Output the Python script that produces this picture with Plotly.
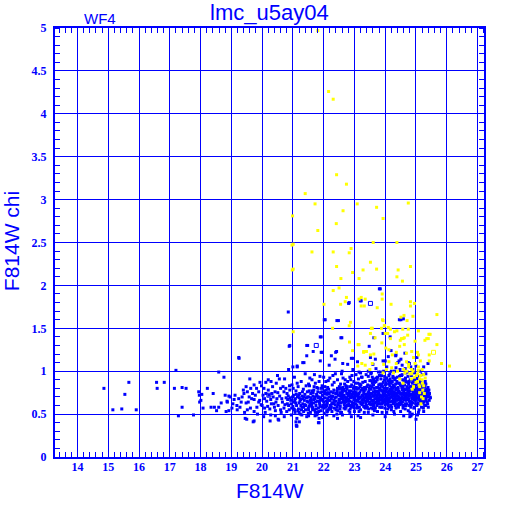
import plotly.graph_objects as go

# ---------------- data ----------------
title_text = "lmc_u5ay04"
chip_label = "WF4"
x_label = "F814W"
y_label = "F814W chi"

# sparse bright end and faint tail, blue
blue_sparse = [
    (14.86, 0.80), (15.15, 0.55), (15.44, 0.56), (15.54, 0.73), (15.67, 0.87), (15.91, 0.55),
    (16.57, 0.87), (16.59, 0.80), (16.82, 0.87), (17.15, 0.80), (17.20, 1.01), (17.28, 0.48),
    (17.40, 0.81), (17.40, 0.58), (17.53, 0.80), (17.77, 0.49), (17.94, 0.76), (17.96, 0.72),
    (18.04, 0.73), (17.97, 0.64), (18.01, 0.66), (18.08, 0.57), (18.22, 0.80), (18.41, 0.74),
    (18.34, 0.58), (18.45, 0.58), (18.52, 0.54), (18.59, 0.99), (18.59, 0.58), (18.67, 0.63),
    (18.76, 0.93), (18.80, 0.72), (18.86, 0.65), (18.83, 0.53), (18.92, 0.71), (18.92, 0.54),
    (18.96, 0.70), (19.09, 0.67), (19.24, 0.68), (19.39, 0.78), (19.41, 0.74), (19.52, 0.76),
    (19.69, 0.74), (19.89, 0.76), (20.12, 0.74), (20.32, 0.74), (20.51, 0.75), (20.71, 0.76),
    (18.87, 0.64), (19.32, 0.64), (19.48, 0.63), (19.74, 0.67), (19.89, 0.64), (20.08, 0.68),
    (20.28, 0.67), (20.45, 0.64), (20.64, 0.68), (19.02, 0.57), (19.19, 0.55), (19.52, 0.55),
    (19.74, 0.53), (20.08, 0.57), (20.43, 0.54), (20.71, 0.57), (19.50, 0.44), (19.74, 0.42),
    (20.28, 0.49), (20.43, 0.48), (20.54, 0.43), (20.26, 0.42), (20.52, 0.44), (19.71, 0.41),
    (19.45, 0.45), (19.93, 0.87), (20.12, 0.87), (20.29, 0.88), (20.46, 0.86), (19.74, 0.84),
    (19.48, 0.82), (19.63, 0.80), (19.82, 0.80), (20.06, 0.80), (20.34, 0.82), (20.60, 0.80),
    (20.56, 0.91), (20.73, 0.91), (20.77, 0.80), (19.25, 1.15), (19.24, 1.16), (20.22, 0.72),
    (19.58, 0.70), (19.97, 0.61), (20.18, 0.59), (20.38, 0.62), (20.62, 0.52), (19.83, 0.58),
    (19.05, 0.62), (19.12, 0.72), (19.18, 0.60), (19.28, 0.58), (19.35, 0.70), (19.43, 0.52),
    (19.55, 0.64), (19.62, 0.57), (19.66, 0.68), (19.78, 0.72), (19.85, 0.50), (19.92, 0.66),
    (20.00, 0.60), (20.03, 0.72), (20.10, 0.52), (20.15, 0.65), (20.20, 0.78), (20.25, 0.56),
    (20.30, 0.62), (20.36, 0.70), (20.40, 0.58), (20.42, 0.76), (20.48, 0.68), (20.52, 0.60),
    (20.57, 0.71), (20.60, 0.55), (20.66, 0.64), (20.68, 0.82), (20.74, 0.61), (20.78, 0.69),
    (20.80, 0.53), (19.98, 0.83), (20.20, 0.90), (20.50, 0.95), (19.60, 0.91), (20.05, 0.47),
    (20.72, 0.47),
]

# upper scattered blue stars
blue_upper = [
    (23.81, 1.96), (20.85, 1.69), (22.81, 1.79), (23.19, 1.82), (22.02, 1.60), (22.43, 1.59),
    (24.46, 1.60), (24.59, 1.61), (22.56, 1.39), (21.89, 1.40), (20.88, 1.29), (21.45, 1.30),
    (21.92, 1.22), (20.86, 1.02), (21.32, 1.10), (21.14, 1.05), (22.39, 1.22), (23.68, 1.14),
    (24.19, 1.24), (23.93, 1.44), (24.16, 1.40), (24.35, 1.19), (24.64, 1.21), (25.03, 1.16),
    (25.39, 1.09), (24.41, 1.10), (24.79, 1.09), (20.90, 1.30), (21.48, 1.30), (21.95, 1.22),
    (21.66, 1.23), (21.45, 1.18), (22.42, 1.23), (22.25, 1.18), (22.37, 1.14), (21.36, 1.10),
    (21.89, 1.12), (21.14, 1.06), (21.00, 1.05), (22.18, 1.07), (22.62, 1.09), (22.78, 1.08),
    (22.96, 1.15), (23.48, 1.29), (24.34, 1.18), (24.10, 1.17), (23.52, 1.16), (23.93, 1.12),
    (24.51, 1.14), (22.90, 1.15), (23.10, 1.11), (22.05, 1.60), (22.48, 1.59), (24.51, 1.60),
    (21.92, 1.40), (22.59, 1.39), (23.63, 1.39), (23.22, 1.82), (22.83, 1.80), (23.84, 1.96),
    (23.20, 0.98), (23.45, 1.00), (23.70, 1.03), (23.85, 0.99), (24.05, 1.05), (24.20, 1.00),
    (24.35, 1.04), (24.55, 1.07), (24.65, 1.03), (24.75, 1.10), (24.90, 1.02), (25.00, 1.06),
    (25.15, 1.00), (25.25, 1.05), (25.32, 0.97), (22.60, 1.00), (22.95, 1.02), (23.60, 1.08),
    (24.00, 1.12), (24.45, 1.12),
]

# main cloud of blue stars
blue_cloud = [
    (20.82, 0.62), (20.85, 0.71), (20.88, 0.55), (20.90, 0.78), (20.93, 0.66), (20.95, 0.49),
    (20.97, 0.84), (21.00, 0.59), (21.02, 0.72), (21.04, 0.64), (21.05, 0.93), (21.07, 0.52),
    (21.08, 0.68), (21.10, 0.77), (21.12, 0.60), (21.13, 0.45), (21.15, 0.70), (21.17, 0.82),
    (21.18, 0.56), (21.20, 0.63), (21.22, 0.74), (21.24, 0.50), (21.25, 0.67), (21.27, 0.88),
    (21.29, 0.58), (21.30, 0.71), (21.32, 0.62), (21.34, 0.79), (21.35, 0.53), (21.37, 0.66),
    (21.39, 0.73), (21.40, 0.97), (21.42, 0.60), (21.44, 0.69), (21.45, 0.47), (21.47, 0.76),
    (21.49, 0.64), (21.50, 0.57),
    (21.52, 0.70), (21.54, 0.83), (21.55, 0.61), (21.57, 0.52), (21.58, 0.74), (21.60, 0.66),
    (21.62, 0.90), (21.63, 0.58), (21.65, 0.71), (21.67, 0.63), (21.68, 0.78), (21.70, 0.55),
    (21.72, 0.68), (21.73, 0.86), (21.75, 0.60), (21.77, 0.73), (21.78, 0.49), (21.80, 0.65),
    (21.82, 0.80), (21.83, 0.57), (21.85, 0.70), (21.87, 0.62), (21.88, 0.94), (21.90, 0.75),
    (21.92, 0.54), (21.93, 0.67), (21.95, 0.83), (21.97, 0.60), (21.98, 0.72), (22.00, 0.64),
    (22.02, 0.51), (22.03, 0.77), (22.05, 0.69), (22.07, 0.88), (22.08, 0.58), (22.10, 0.73),
    (22.12, 0.63), (22.13, 0.81), (22.15, 0.55), (22.17, 0.70), (22.18, 0.66), (22.20, 0.92),
    (22.22, 0.60), (22.23, 0.76), (22.25, 0.68), (22.27, 0.53), (22.28, 0.84), (22.30, 0.71),
    (22.32, 0.62), (22.33, 0.78), (22.35, 0.57), (22.37, 0.69), (22.38, 0.97), (22.40, 0.65),
    (22.42, 0.74), (22.43, 0.50), (22.45, 0.80), (22.47, 0.61), (22.48, 0.72), (22.50, 0.67),
    (21.53, 0.77), (21.59, 0.69), (21.64, 0.55), (21.69, 0.82), (21.74, 0.64), (21.79, 0.71),
    (21.84, 0.53), (21.89, 0.66), (21.94, 0.76), (21.99, 0.59), (22.04, 0.82), (22.09, 0.65),
    (22.14, 0.75), (22.19, 0.57), (22.24, 0.71), (22.29, 0.63), (22.34, 0.87), (22.39, 0.74),
    (22.44, 0.58), (22.49, 0.79),
    (22.52, 0.75), (22.54, 0.59), (22.55, 0.85), (22.57, 0.68), (22.58, 0.52), (22.60, 0.73),
    (22.62, 0.64), (22.63, 0.92), (22.65, 0.79), (22.67, 0.61), (22.68, 0.70), (22.70, 0.56),
    (22.72, 0.83), (22.73, 0.66), (22.75, 0.74), (22.77, 0.60), (22.78, 0.88), (22.80, 0.71),
    (22.82, 0.54), (22.83, 0.77), (22.85, 0.65), (22.87, 0.82), (22.88, 0.69), (22.90, 0.58),
    (22.92, 0.95), (22.93, 0.73), (22.95, 0.63), (22.97, 0.80), (22.98, 0.67), (23.00, 0.53),
    (23.02, 0.76), (23.03, 0.86), (23.05, 0.62), (23.07, 0.71), (23.08, 0.79), (23.10, 0.57),
    (23.12, 0.68), (23.13, 0.91), (23.15, 0.74), (23.17, 0.64), (23.18, 0.82), (23.20, 0.55),
    (23.22, 0.70), (23.23, 0.78), (23.25, 0.61), (23.27, 0.87), (23.28, 0.67), (23.30, 0.75),
    (23.32, 0.52), (23.33, 0.81), (23.35, 0.69), (23.37, 0.63), (23.38, 0.96), (23.40, 0.73),
    (23.42, 0.58), (23.43, 0.84), (23.45, 0.70), (23.47, 0.77), (23.48, 0.62), (23.50, 0.89),
    (22.51, 0.66), (22.56, 0.80), (22.61, 0.70), (22.66, 0.57), (22.71, 0.77), (22.76, 0.69),
    (22.81, 0.62), (22.86, 0.75), (22.91, 0.84), (22.96, 0.59), (23.01, 0.69), (23.06, 0.81),
    (23.11, 0.65), (23.16, 0.58), (23.21, 0.84), (23.26, 0.72), (23.31, 0.66), (23.36, 0.79),
    (23.41, 0.67), (23.46, 0.56),
    (22.53, 0.71), (22.59, 0.78), (22.64, 0.67), (22.69, 0.63), (22.74, 0.81), (22.79, 0.73),
    (22.84, 0.60), (22.89, 0.77), (22.94, 0.70), (22.99, 0.74), (23.04, 0.66), (23.09, 0.73),
    (23.14, 0.80), (23.19, 0.69), (23.24, 0.66), (23.29, 0.79), (23.34, 0.73), (23.39, 0.60),
    (23.44, 0.75), (23.49, 0.71),
    (23.52, 0.68), (23.54, 0.79), (23.55, 0.57), (23.57, 0.74), (23.58, 0.93), (23.60, 0.65),
    (23.62, 0.84), (23.63, 0.71), (23.65, 0.54), (23.67, 0.77), (23.68, 0.63), (23.70, 0.88),
    (23.72, 0.72), (23.73, 0.60), (23.75, 0.81), (23.77, 0.69), (23.78, 0.99), (23.80, 0.75),
    (23.82, 0.58), (23.83, 0.85), (23.85, 0.66), (23.87, 0.78), (23.88, 0.71), (23.90, 0.52),
    (23.92, 0.82), (23.93, 0.74), (23.95, 0.64), (23.97, 0.90), (23.98, 0.77), (24.00, 0.61),
    (24.02, 0.72), (24.03, 0.86), (24.05, 0.68), (24.07, 0.80), (24.08, 0.56), (24.10, 0.75),
    (24.12, 0.95), (24.13, 0.66), (24.15, 0.83), (24.17, 0.73), (24.18, 0.60), (24.20, 0.79),
    (24.22, 0.70), (24.23, 0.88), (24.25, 0.64), (24.27, 0.76), (24.28, 0.53), (24.30, 0.82),
    (24.32, 0.69), (24.33, 0.92), (24.35, 0.74), (24.37, 0.62), (24.38, 0.80), (24.40, 0.71),
    (24.42, 0.86), (24.43, 0.58), (24.45, 0.77), (24.47, 0.67), (24.48, 1.02), (24.50, 0.73),
    (23.51, 0.83), (23.56, 0.66), (23.61, 0.76), (23.66, 0.87), (23.71, 0.64), (23.76, 0.73),
    (23.81, 0.67), (23.86, 0.91), (23.91, 0.70), (23.96, 0.80), (24.01, 0.66), (24.06, 0.76),
    (24.11, 0.85), (24.16, 0.69), (24.21, 0.58), (24.26, 0.84), (24.31, 0.75), (24.36, 0.68),
    (24.41, 0.79), (24.46, 0.63),
    (23.53, 0.61), (23.59, 0.71), (23.64, 0.80), (23.69, 0.76), (23.74, 0.67), (23.79, 0.84),
    (23.84, 0.72), (23.89, 0.62), (23.94, 0.87), (23.99, 0.73), (24.04, 0.79), (24.09, 0.63),
    (24.14, 0.77), (24.19, 0.86), (24.24, 0.72), (24.29, 0.65), (24.34, 0.79), (24.39, 0.74),
    (24.44, 0.70), (24.49, 0.84),
    (23.55, 0.89), (23.63, 0.59), (23.72, 0.81), (23.81, 0.95), (23.90, 0.68), (23.99, 0.57),
    (24.07, 0.69), (24.16, 0.91), (24.25, 0.80), (24.33, 0.60), (24.42, 0.67), (24.50, 0.95),
    (24.52, 0.62), (24.54, 0.81), (24.55, 0.70), (24.57, 0.90), (24.58, 0.57), (24.60, 0.76),
    (24.62, 0.67), (24.63, 0.84), (24.65, 0.73), (24.67, 0.98), (24.68, 0.60), (24.70, 0.79),
    (24.72, 0.69), (24.73, 0.87), (24.75, 0.54), (24.77, 0.75), (24.78, 0.65), (24.80, 0.82),
    (24.82, 0.72), (24.83, 1.05), (24.85, 0.61), (24.87, 0.78), (24.88, 0.68), (24.90, 0.89),
    (24.92, 0.74), (24.93, 0.57), (24.95, 0.83), (24.97, 0.66), (24.98, 0.77), (25.00, 0.71),
    (25.02, 0.92), (25.03, 0.60), (25.05, 0.80), (25.07, 0.69), (25.08, 0.52), (25.10, 0.76),
    (25.12, 0.86), (25.13, 0.65), (25.15, 0.73), (25.17, 0.81), (25.18, 0.58), (25.20, 0.70),
    (25.22, 0.78), (25.23, 0.63), (25.25, 0.74), (25.27, 0.84), (25.28, 0.67), (25.30, 0.72),
    (25.32, 0.60), (25.35, 0.79), (25.38, 0.70), (25.40, 0.75), (25.43, 0.66),
    (24.51, 0.74), (24.56, 0.64), (24.61, 0.88), (24.66, 0.71), (24.71, 0.62), (24.76, 0.85),
    (24.81, 0.77), (24.86, 0.69), (24.91, 0.63), (24.96, 0.91), (25.01, 0.79), (25.06, 0.73),
    (25.11, 0.62), (25.16, 0.68), (25.21, 0.86), (25.26, 0.70), (25.31, 0.78), (25.36, 0.64),
    (24.53, 0.95), (24.59, 0.68), (24.64, 0.78), (24.69, 0.74), (24.74, 0.94), (24.79, 0.60),
    (24.84, 0.73), (24.89, 0.80), (24.94, 0.70), (24.99, 0.62), (25.04, 0.85), (25.09, 0.81),
    (25.14, 0.77), (25.19, 0.74), (25.24, 0.57), (25.29, 0.82), (25.34, 0.73), (25.39, 0.81),
    (21.10, 0.41), (21.13, 0.36), (21.85, 0.45), (21.85, 0.40), (21.96, 0.46), (22.33, 0.48),
    (22.61, 0.49), (22.45, 0.45), (22.90, 0.47), (23.20, 0.46), (23.60, 0.49), (24.00, 0.47),
    (24.30, 0.50), (24.60, 0.48), (24.80, 0.47), (25.00, 0.44), (25.05, 0.49), (24.88, 0.50),
    (21.11, 0.37), (21.83, 0.40), (24.84, 0.48), (23.12, 0.48), (21.21, 0.41), (21.12, 0.36),
    (21.29, 0.49), (21.51, 0.48), (21.72, 0.48), (22.10, 0.49), (21.51, 0.55), (22.12, 0.53),
]

blue_cloud_extra = [
    (20.81, 0.74), (20.86, 0.60), (20.91, 0.69), (20.96, 0.57), (21.01, 0.80), (21.06, 0.66),
    (21.11, 0.73), (21.16, 0.54), (21.21, 0.69), (21.26, 0.60), (21.31, 0.76), (21.36, 0.70),
    (21.41, 0.55), (21.46, 0.65), (21.51, 0.85), (21.56, 0.66), (21.61, 0.60), (21.66, 0.75),
    (21.71, 0.70), (21.76, 0.56), (21.81, 0.76), (21.86, 0.64), (21.91, 0.69), (21.96, 0.72),
    (22.01, 0.57), (22.06, 0.74), (22.11, 0.60), (22.16, 0.79), (22.21, 0.66), (22.26, 0.62),
    (22.31, 0.75), (22.36, 0.65), (22.41, 0.70), (22.46, 0.54), (22.51, 0.82), (22.56, 0.63),
    (22.61, 0.76), (22.66, 0.72), (22.71, 0.64), (22.76, 0.79), (22.81, 0.67), (22.86, 0.56),
    (22.91, 0.72), (22.96, 0.70), (23.01, 0.62), (23.06, 0.75), (23.11, 0.86), (23.16, 0.70),
    (23.21, 0.62), (23.26, 0.80), (23.31, 0.69), (23.36, 0.57), (23.41, 0.82), (23.46, 0.74),
    (23.51, 0.64), (23.56, 0.74), (23.61, 0.60), (23.66, 0.68), (23.71, 0.92), (23.76, 0.77),
    (23.81, 0.62), (23.86, 0.70), (23.91, 0.77), (23.96, 0.66), (24.01, 0.84), (24.06, 0.62),
    (24.11, 0.72), (24.16, 0.64), (24.21, 0.81), (24.26, 0.68), (24.31, 0.90), (24.36, 0.78),
    (24.41, 0.61), (24.46, 0.86), (24.51, 0.69), (24.56, 0.78), (24.61, 0.72), (24.66, 0.62),
    (24.71, 0.82), (24.76, 0.68), (24.81, 0.90), (24.86, 0.64), (24.91, 0.76), (24.96, 0.73),
    (25.01, 0.66), (25.06, 0.90), (25.11, 0.70), (25.16, 0.85), (25.21, 0.65), (25.26, 0.78),
    (25.31, 0.68), (25.36, 0.75), (25.41, 0.71),
    (20.83, 0.67), (20.89, 0.83), (20.94, 0.62), (20.99, 0.70), (21.03, 0.56), (21.09, 0.63),
    (21.14, 0.86), (21.19, 0.72), (21.23, 0.65), (21.28, 0.55), (21.33, 0.68), (21.38, 0.61),
    (21.43, 0.83), (21.48, 0.70), (21.53, 0.59), (21.58, 0.63), (21.63, 0.77), (21.68, 0.67),
    (21.73, 0.52), (21.78, 0.81), (21.83, 0.69), (21.88, 0.59), (21.93, 0.80), (21.98, 0.66),
    (22.03, 0.61), (22.08, 0.78), (22.13, 0.68), (22.18, 0.74), (22.23, 0.56), (22.28, 0.70),
    (22.33, 0.66), (22.38, 0.61), (22.43, 0.77), (22.48, 0.63), (22.53, 0.56), (22.58, 0.71),
    (22.63, 0.78), (22.68, 0.85), (22.73, 0.58), (22.78, 0.65), (22.83, 0.72), (22.88, 0.90),
    (22.93, 0.61), (22.98, 0.82), (23.03, 0.72), (23.08, 0.60), (23.13, 0.68), (23.18, 0.76),
    (23.23, 0.93), (23.28, 0.63), (23.33, 0.58), (23.38, 0.71), (23.43, 0.65), (23.48, 0.80),
    (23.53, 0.97), (23.58, 0.62), (23.63, 0.88), (23.68, 0.57), (23.73, 0.70), (23.78, 0.65),
    (23.83, 0.80), (23.88, 0.58), (23.93, 0.65), (23.98, 0.94), (24.03, 0.70), (24.08, 0.89),
    (24.13, 0.58), (24.18, 0.70), (24.23, 0.77), (24.28, 0.73), (24.33, 0.67), (24.38, 0.88),
    (24.43, 0.75), (24.48, 0.61), (24.53, 0.83), (24.58, 0.60), (24.63, 0.69), (24.68, 0.88),
    (24.73, 0.77), (24.78, 0.71), (24.83, 0.58), (24.88, 0.86), (24.93, 0.67), (24.98, 0.84),
    (25.03, 0.75), (25.08, 0.63), (25.13, 0.71), (25.18, 0.79), (25.23, 0.72), (25.28, 0.60),
    (25.33, 0.66), (25.38, 0.62), (25.44, 0.74), (25.47, 0.69),
]

blue_cloud_fill = [
    (21.55, 0.92), (21.70, 0.96), (21.85, 0.88), (22.00, 0.93), (22.15, 0.89), (22.30, 0.95),
    (22.45, 0.90), (22.58, 0.97), (22.70, 0.90), (22.85, 0.93), (22.98, 0.88), (23.05, 0.96),
    (23.15, 0.99), (23.25, 0.93), (23.35, 0.88), (23.45, 0.94), (23.55, 0.98), (23.62, 0.91),
    (23.75, 0.93), (23.88, 0.95), (23.95, 1.00), (24.05, 0.92), (24.15, 0.97), (24.25, 0.94),
    (24.30, 1.00), (24.40, 0.93), (24.55, 0.96), (24.65, 0.91), (24.72, 0.99), (24.85, 0.95),
    (24.95, 0.98), (25.05, 0.94), (25.20, 0.96), (25.30, 0.88),
    (21.05, 0.55), (21.20, 0.52), (21.35, 0.58), (21.50, 0.51), (21.65, 0.57), (21.80, 0.52),
    (21.95, 0.58), (22.10, 0.54), (22.25, 0.58), (22.40, 0.55), (22.55, 0.52), (22.70, 0.59),
    (22.85, 0.52), (23.00, 0.57), (23.15, 0.53), (23.30, 0.59), (23.45, 0.52), (23.60, 0.56),
    (23.75, 0.53), (23.90, 0.58), (24.05, 0.52), (24.20, 0.55), (24.35, 0.57), (24.50, 0.53),
    (24.65, 0.56), (24.80, 0.52), (24.95, 0.58), (25.10, 0.55), (25.25, 0.53), (25.40, 0.58),
    (22.52, 0.63), (22.62, 0.81), (22.72, 0.69), (22.82, 0.75), (22.92, 0.64), (23.02, 0.80),
    (23.12, 0.72), (23.22, 0.63), (23.32, 0.77), (23.42, 0.70), (23.52, 0.74), (23.62, 0.66),
    (23.72, 0.76), (23.82, 0.70), (23.92, 0.63), (24.02, 0.77), (24.12, 0.68), (24.22, 0.74),
    (24.32, 0.64), (24.42, 0.81), (24.52, 0.66), (24.62, 0.79), (24.72, 0.72), (24.82, 0.65),
    (24.92, 0.78), (25.02, 0.69), (25.12, 0.80), (25.22, 0.74), (25.32, 0.85), (25.42, 0.78),
    (22.57, 0.74), (22.67, 0.65), (22.77, 0.82), (22.87, 0.70), (22.97, 0.76), (23.07, 0.66),
    (23.17, 0.85), (23.27, 0.71), (23.37, 0.65), (23.47, 0.68), (23.57, 0.82), (23.67, 0.72),
    (23.77, 0.62), (23.87, 0.83), (23.97, 0.71), (24.07, 0.65), (24.17, 0.79), (24.27, 0.62),
    (24.37, 0.71), (24.47, 0.75), (24.57, 0.73), (24.67, 0.66), (24.77, 0.80), (24.87, 0.73),
    (24.97, 0.69), (25.07, 0.77), (25.17, 0.64), (25.27, 0.69), (25.37, 0.71),
    (23.54, 0.70), (23.58, 0.86), (23.62, 0.62), (23.66, 0.74), (23.70, 0.68), (23.74, 0.90),
    (23.78, 0.73), (23.82, 0.78), (23.86, 0.62), (23.90, 0.85), (23.94, 0.76), (23.98, 0.68),
    (24.02, 0.92), (24.06, 0.71), (24.10, 0.60), (24.14, 0.88), (24.18, 0.76), (24.22, 0.65),
    (24.26, 0.92), (24.30, 0.71), (24.34, 0.85), (24.38, 0.66), (24.42, 0.76), (24.46, 0.94),
    (24.50, 0.64), (24.54, 0.74), (24.58, 0.82), (24.62, 0.60), (24.66, 0.92), (24.70, 0.67),
    (24.74, 0.72), (24.78, 0.88), (24.82, 0.62), (24.86, 0.82), (24.90, 0.71), (24.94, 0.88),
    (24.98, 0.72), (25.02, 0.62), (25.06, 0.83), (25.10, 0.67), (25.14, 0.89), (25.18, 0.65),
    (25.22, 0.82), (25.26, 0.64), (25.30, 0.76), (25.34, 0.70), (25.38, 0.77), (25.45, 0.70),
]

# open-symbol blue stars
blue_open = [(21.76, 1.30), (23.52, 1.79), (20.22, 0.72)]

# yellow stars (flagged)
yellow_pts = [
    (21.81, 4.97), (22.16, 4.26), (22.31, 4.17), (22.42, 3.29), (22.74, 3.18), (21.40, 3.07),
    (21.72, 2.95), (23.09, 2.95), (23.72, 2.91), (24.75, 2.96), (20.99, 2.81), (22.63, 2.87),
    (23.93, 2.78), (22.41, 2.72), (21.81, 2.64), (21.01, 2.48), (21.62, 2.39), (22.31, 2.39),
    (22.89, 2.43), (22.83, 2.38), (23.61, 2.50), (24.38, 2.50), (22.42, 2.22), (23.52, 2.27),
    (23.72, 2.19), (23.28, 2.18), (24.82, 2.22), (22.94, 2.15), (24.42, 2.18), (24.38, 2.10),
    (22.56, 2.08), (24.56, 2.05), (21.01, 2.19), (23.15, 2.08), (22.31, 1.94), (22.50, 1.97),
    (22.74, 1.86), (23.22, 1.86), (23.15, 1.84), (23.35, 1.84), (23.90, 1.90), (23.90, 1.84),
    (22.70, 1.81), (23.22, 1.76), (23.32, 1.76), (23.74, 1.74), (24.19, 1.78), (24.82, 1.81),
    (24.95, 1.79), (24.82, 1.76), (22.01, 1.78), (22.55, 1.78), (25.68, 1.66), (24.61, 1.65),
    (24.51, 1.63), (24.90, 1.64), (24.71, 1.59), (23.93, 1.59), (22.87, 1.57), (22.83, 1.53),
    (22.29, 1.50), (23.58, 1.50), (23.97, 1.53), (24.10, 1.51), (23.88, 1.50), (24.17, 1.49),
    (24.38, 1.47), (24.57, 1.49), (24.75, 1.49), (25.08, 1.47), (24.30, 1.46), (24.00, 1.44),
    (21.01, 1.46), (25.46, 1.43), (24.62, 1.39), (24.53, 1.38), (24.17, 1.38), (24.73, 1.42),
    (23.52, 1.44), (23.67, 1.39), (25.35, 1.38), (23.13, 1.31), (23.39, 1.23), (23.30, 1.22),
    (23.52, 1.19), (23.63, 1.20), (23.89, 1.33), (24.02, 1.27), (24.12, 1.25), (24.23, 1.19),
    (24.36, 1.22), (24.47, 1.29), (24.62, 1.31), (24.49, 1.36), (24.58, 1.38), (24.69, 1.21),
    (24.86, 1.23), (24.97, 1.35), (25.05, 1.22), (25.29, 1.36), (25.42, 1.43), (25.40, 1.38),
    (25.68, 1.31), (25.43, 1.19), (25.43, 1.12), (25.83, 1.09), (26.09, 1.06), (25.08, 1.19),
    (24.92, 1.16), (25.14, 1.12), (22.94, 1.24), (23.15, 1.31), (23.24, 1.09), (23.58, 1.09),
    (23.95, 1.08), (24.12, 1.11), (24.36, 1.09), (24.69, 1.11), (24.76, 1.08), (24.97, 1.09),
    (25.08, 1.05), (25.20, 1.02), (24.86, 1.02), (24.76, 1.05), (24.64, 0.98), (24.86, 0.97),
    (25.02, 0.95), (25.12, 0.91), (25.21, 0.86), (25.05, 0.88), (24.88, 0.79), (25.12, 0.82),
    (25.22, 0.78), (25.27, 0.74), (25.16, 0.62), (24.47, 0.91), (24.27, 0.98), (23.93, 0.98),
    (23.50, 1.02), (23.35, 1.07), (23.11, 1.06), (24.04, 1.02), (24.21, 1.04), (24.58, 0.86),
    (24.90, 1.00), (24.95, 0.93), (25.00, 0.87), (25.05, 0.97), (25.10, 0.84), (25.15, 0.95),
    (25.20, 0.90), (25.25, 0.83), (24.85, 0.91), (24.80, 0.97), (25.12, 0.75), (25.18, 0.70),
    (25.23, 0.68), (24.92, 0.82), (25.30, 0.92), (24.70, 1.00), (24.60, 1.02), (24.40, 1.00),
    (25.25, 0.96), (25.07, 1.01), (20.97, 2.47), (20.98, 2.18), (23.91, 1.60), (23.98, 1.53),
    (23.55, 1.50), (24.08, 1.44), (23.30, 1.23), (22.84, 1.34), (23.12, 1.31),
]
yellow_open = [(25.57, 1.22)]

x_range = [13.27, 27.21]
y_range = [0, 5]

# ---------------- figure ----------------
BLUE = "#0000ff"
YELLOW = "#ffff00"

blue_all = blue_sparse + blue_upper + blue_cloud + blue_cloud_extra + blue_cloud_fill


def xs(pts):
    return [p[0] for p in pts]


def ys(pts):
    return [p[1] for p in pts]


fig = go.Figure()
fig.add_trace(go.Scatter(x=xs(blue_all), y=ys(blue_all), mode="markers",
                         marker=dict(symbol="square", size=3, color=BLUE, line=dict(width=0)),
                         showlegend=False, hoverinfo="skip"))
fig.add_trace(go.Scatter(x=xs(blue_open), y=ys(blue_open), mode="markers",
                         marker=dict(symbol="square-open", size=4, color=BLUE, line=dict(width=1, color=BLUE)),
                         showlegend=False, hoverinfo="skip"))
fig.add_trace(go.Scatter(x=xs(yellow_pts), y=ys(yellow_pts), mode="markers",
                         marker=dict(symbol="square", size=3, color=YELLOW, line=dict(width=0)),
                         showlegend=False, hoverinfo="skip"))
fig.add_trace(go.Scatter(x=xs(yellow_open), y=ys(yellow_open), mode="markers",
                         marker=dict(symbol="square-open", size=4, color=YELLOW, line=dict(width=1, color=YELLOW)),
                         showlegend=False, hoverinfo="skip"))

tick_font = dict(family="Liberation Serif", size=12, color=BLUE, weight="bold")
label_font = dict(family="Liberation Sans", size=21, color=BLUE)

fig.update_layout(
    width=512, height=512,
    margin=dict(l=55, r=28, t=28, b=55, autoexpand=False),
    paper_bgcolor="white", plot_bgcolor="white",
    showlegend=False,
    annotations=[
        dict(text=title_text, xref="paper", yref="paper", x=0.501, y=1.037,
             xanchor="center", yanchor="middle", showarrow=False,
             font=dict(family="Liberation Sans", size=22, color=BLUE)),
        dict(text=chip_label, xref="paper", yref="paper", x=0.105, y=1.023,
             xanchor="center", yanchor="middle", showarrow=False,
             font=dict(family="Liberation Sans", size=15, color=BLUE)),
        dict(text=x_label, xref="paper", yref="paper", x=0.501, y=-0.077,
             xanchor="center", yanchor="middle", showarrow=False, font=label_font),
        dict(text=y_label, xref="paper", yref="paper", x=-0.1026, y=0.503, textangle=-90,
             xanchor="center", yanchor="middle", showarrow=False, font=label_font),
    ],
)

fig.update_xaxes(
    range=x_range, dtick=1, tick0=0,
    showgrid=True, gridcolor=BLUE, gridwidth=1,
    showline=True, linecolor=BLUE, linewidth=2, mirror="ticks",
    ticks="outside", ticklen=0, tickfont=tick_font, zeroline=False, automargin=False,
    ticklabelstandoff=-2,
    minor=dict(dtick=0.2, tick0=0, ticks="inside", ticklen=5, tickcolor=BLUE, tickwidth=1, showgrid=False),
)
fig.update_yaxes(
    range=y_range, dtick=0.5, tick0=0,
    showgrid=True, gridcolor=BLUE, gridwidth=1,
    showline=True, linecolor=BLUE, linewidth=2, mirror="ticks",
    ticks="outside", ticklen=0, tickfont=tick_font, zeroline=False, automargin=False,
    ticklabelstandoff=4,
    minor=dict(dtick=0.1, tick0=0, ticks="inside", ticklen=5, tickcolor=BLUE, tickwidth=1, showgrid=False),
)

# remove the page's default 8 px body margin so the 512 px figure fills the window
fig.write_html("out.html", config={"displayModeBar": False},
               post_script="document.body.style.margin='0';")
